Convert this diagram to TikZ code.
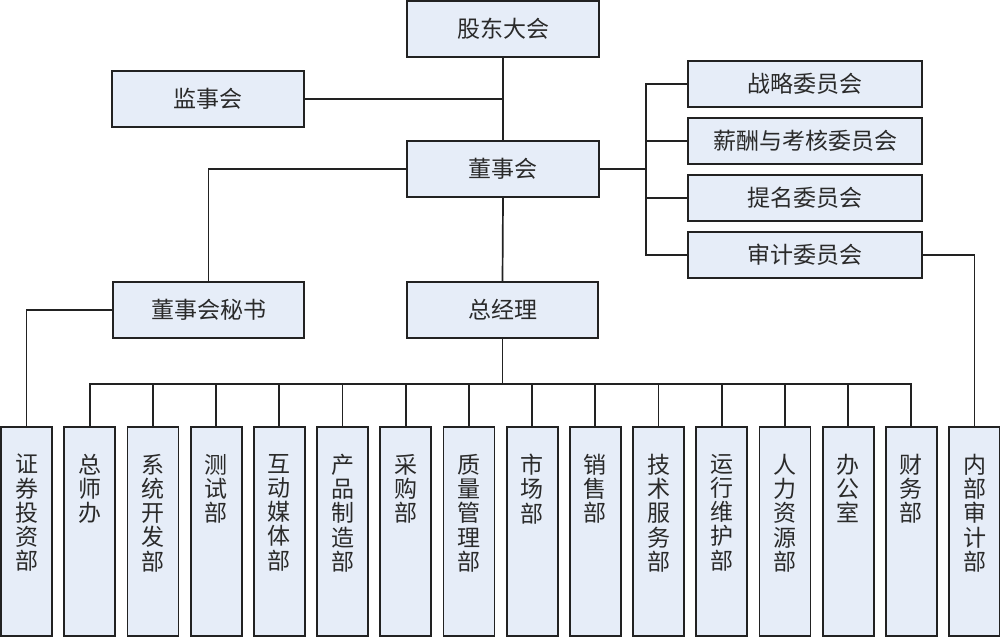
\documentclass[tikz,border=0pt]{standalone}
\usepackage{fontspec}
\newfontfamily\cjk{Noto Sans CJK SC}
\definecolor{boxfill}{HTML}{E6EDF8}
\definecolor{edge}{HTML}{222222}
\definecolor{txt}{HTML}{2A2A2A}
\begin{document}
\begin{tikzpicture}[x=1pt,y=-1pt,
  box/.style={draw=edge,line width=1.8pt,fill=boxfill,inner sep=0pt,text=txt,font=\cjk\fontsize{23}{24.2}\selectfont},
  topbox/.style={box,minimum width=192pt,minimum height=56pt},
  combox/.style={box,minimum width=234pt,minimum height=46pt},
  deptbox/.style={box,minimum width=51pt,minimum height=209pt},
  depttext/.style={inner sep=0pt,align=center,text=txt,font=\cjk\fontsize{23}{24.2}\selectfont,anchor=north},
  link/.style={draw=edge,line width=1.7pt}]
\useasboundingbox (0,0) rectangle (1000,637);
\fill[white] (0,0) rectangle (1000,637);
% top level
\node[topbox] (gd) at (503,29) {股东大会};
\node[topbox] (jsh) at (208,99) {监事会};
\node[topbox] (dsh) at (503,169) {董事会};
\node[combox] (zl) at (805,84) {战略委员会};
\node[combox] (xc) at (805,141) {薪酬与考核委员会};
\node[combox] (tm) at (805,198) {提名委员会};
\node[combox] (sj) at (805,255) {审计委员会};
\node[topbox,minimum width=191pt] (ms) at (208.5,310) {董事会秘书};
\node[topbox,minimum width=191pt] (zjl) at (502.5,310) {总经理};
% departments
\foreach \i/\t in {0/{证\\券\\投\\资\\部},1/{总\\师\\办},2/{系\\统\\开\\发\\部},3/{测\\试\\部},
  4/{互\\动\\媒\\体\\部},5/{产\\品\\制\\造\\部},6/{采\\购\\部},7/{质\\量\\管\\理\\部},
  8/{市\\场\\部},9/{销\\售\\部},10/{技\\术\\服\\务\\部},11/{运\\行\\维\\护\\部},
  12/{人\\力\\资\\源\\部},13/{办\\公\\室},14/{财\\务\\部},15/{内\\部\\审\\计\\部}}{
  \node[deptbox] (d\i) at ({26.5+63.2*\i},531.5) {};
  \node[depttext] (t\i) at ({26.5+63.2*\i},454) {\t};
}
% connectors
\coordinate (cb) at (646,0);
\coordinate (bus) at (0,384);
\draw[link] (gd.south) -- (dsh.north);
\draw[link] (jsh.east) -- (jsh.east -| gd.south);
\draw[link] (dsh.west) -| (ms.north);
\draw[link] (dsh.east) -- (dsh.east -| cb);
\draw[link] (zl.west) -- (zl.west -| cb) -- (sj.west -| cb) -- (sj.west);
\draw[link] (xc.west) -- (xc.west -| cb);
\draw[link] (tm.west) -- (tm.west -| cb);
\draw[link] (sj.east) -| (d15.north);
\draw[link] (dsh.south) -- (zjl.north);
\draw[link] (ms.west) -| (d0.north);
\draw[link] (zjl.south) -- (zjl.south |- bus);
\draw[link] (d1.north) -- (d1.north |- bus) -- (d14.north |- bus) -- (d14.north);
\foreach \i in {2,...,13}{
  \draw[link] (d\i.north) -- (d\i.north |- bus);
}
\end{tikzpicture}
\end{document}
